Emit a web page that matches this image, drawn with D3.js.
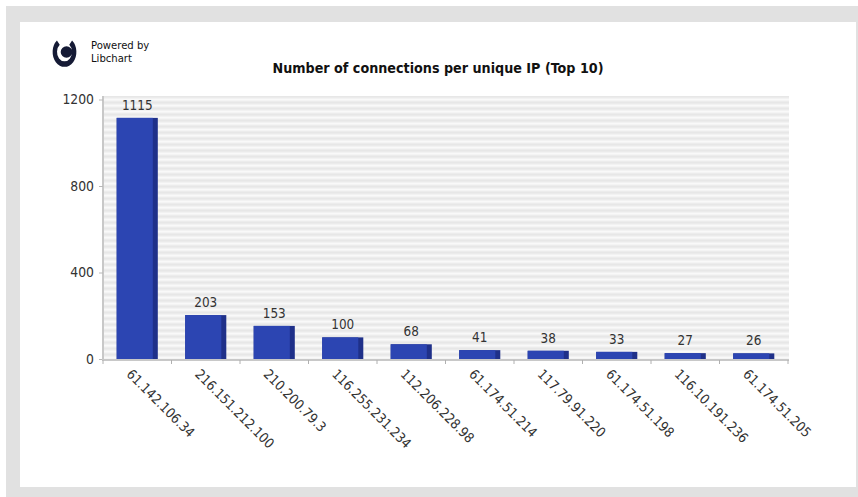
<!DOCTYPE html>
<html>
<head>
<meta charset="utf-8">
<script src="https://cdn.jsdelivr.net/npm/d3@7"></script>
<style>
  html, body { margin: 0; padding: 0; background: #ffffff; }
  svg { display: block; }
  text { font-family: "DejaVu Sans Condensed", "DejaVu Sans", sans-serif; font-stretch: condensed; }
</style>
</head>
<body>
<svg id="chart" width="858" height="497"></svg>
<script>
// Connections per unique IP address (top 10)
const categories = [
  "61.142.106.34", "216.151.212.100", "210.200.79.3", "116.255.231.234",
  "112.206.228.98", "61.174.51.214", "117.79.91.220", "61.174.51.198",
  "116.10.191.236", "61.174.51.205"
];
const connections = [1115, 203, 153, 100, 68, 41, 38, 33, 27, 26];
const yTicks = [0, 400, 800, 1200];
const chartTitle = "Number of connections per unique IP (Top 10)";

const svg = d3.select("#chart");

// page frame
svg.append("rect").attr("x", 6).attr("y", 6).attr("width", 852).attr("height", 491).attr("fill", "#e1e1e1");
svg.append("rect").attr("x", 20).attr("y", 22).attr("width", 836).attr("height", 465).attr("fill", "#ffffff");

const plot = { left: 103, right: 788, top: 96, bottom: 359 };

const x = d3.scaleBand().domain(categories).range([plot.left, plot.right]).paddingInner(0.4).paddingOuter(0.2);
const y = d3.scaleLinear().domain([0, 1200]).range([plot.bottom, 99.5]);

// striped plot background
const defs = svg.append("defs");
const pat = defs.append("pattern").attr("id", "stripes").attr("patternUnits", "userSpaceOnUse")
  .attr("x", 0).attr("y", plot.top).attr("width", 8).attr("height", 6);
const stripeRows = ["#e7e7e7", "#ebebeb", "#f2f2f2", "#f9f9f9", "#f4f4f4", "#ececec"];
stripeRows.forEach((c, i) => pat.append("rect").attr("x", 0).attr("y", i).attr("width", 8).attr("height", 1).attr("fill", c));
svg.append("rect").attr("x", plot.left).attr("y", plot.top)
  .attr("width", plot.right - plot.left + 1).attr("height", plot.bottom - plot.top + 1)
  .attr("fill", "url(#stripes)");

// logo
const logo = svg.append("g").attr("fill", "#151a35");
logo.append("path")
  .attr("d", d3.arc()({ innerRadius: 8.5, outerRadius: 13.5, startAngle: Math.PI * 0.22, endAngle: Math.PI * 1.78 }))
  .attr("transform", "translate(64.5,52) scale(0.88,1.1)");
logo.append("circle").attr("cx", 66.5).attr("cy", 52).attr("r", 5.8);
logo.append("rect").attr("x", 70).attr("y", 49.5).attr("width", 4.5).attr("height", 5);
svg.append("text").attr("x", 91).attr("y", 49).attr("font-size", 11.2).attr("fill", "#111").text("Powered by");
svg.append("text").attr("x", 91).attr("y", 62).attr("font-size", 11.2).attr("fill", "#111").text("Libchart");

// title
svg.append("text").attr("x", 438).attr("y", 73).attr("text-anchor", "middle")
  .attr("font-size", 14.2).attr("font-weight", "bold").attr("fill", "#111").text(chartTitle);

// y axis
const yAxis = d3.axisLeft(y).tickValues(yTicks).tickSize(4).tickPadding(5).tickFormat(d3.format("d"));
const gy = svg.append("g").attr("transform", `translate(${plot.left},0)`).call(yAxis);
gy.select(".domain").attr("stroke", "#c8c8c8").attr("stroke-width", 2).attr("d", `M0,${plot.top}V${plot.bottom + 1}`);
gy.selectAll(".tick line").attr("stroke", "#b8b8b8");
gy.selectAll(".tick text").attr("font-size", 13.8).attr("fill", "#333")
  .style("font-family", '"DejaVu Sans Condensed", "DejaVu Sans", sans-serif');

// x axis with ticks on band boundaries
const gx = svg.append("g").attr("transform", `translate(0,${plot.bottom + 1})`);
gx.append("line").attr("x1", plot.left - 1).attr("x2", plot.right + 1).attr("stroke", "#c8c8c8").attr("stroke-width", 2);
const step = x.step();
const bounds = d3.range(categories.length + 1).map(i => plot.left + i * step);
gx.selectAll("line.tk").data(bounds).join("line").attr("class", "tk")
  .attr("x1", d => d).attr("x2", d => d).attr("y1", 0).attr("y2", 4).attr("stroke", "#b0b0b0");
gx.selectAll("text").data(categories).join("text")
  .attr("transform", d => `translate(${x(d) + x.bandwidth() / 2 - 11.5},15) rotate(45)`)
  .attr("font-size", 13.6).attr("fill", "#333").text(d => d);

// bars: front face plus darker side
const bars = svg.append("g").selectAll("g").data(categories).join("g");
bars.append("rect")
  .attr("x", d => x(d)).attr("width", x.bandwidth())
  .attr("y", (d, i) => y(connections[i])).attr("height", (d, i) => y(0) - y(connections[i]))
  .attr("fill", "#1f3089");
bars.append("rect")
  .attr("x", d => x(d)).attr("width", x.bandwidth() - 5)
  .attr("y", (d, i) => y(connections[i])).attr("height", (d, i) => y(0) - y(connections[i]))
  .attr("fill", "#2c45b2");
bars.append("text")
  .attr("x", d => x(d) + x.bandwidth() / 2).attr("y", (d, i) => y(connections[i]) - 8)
  .attr("text-anchor", "middle").attr("font-size", 13.4).attr("fill", "#333")
  .text((d, i) => connections[i]);
</script>
</body>
</html>
